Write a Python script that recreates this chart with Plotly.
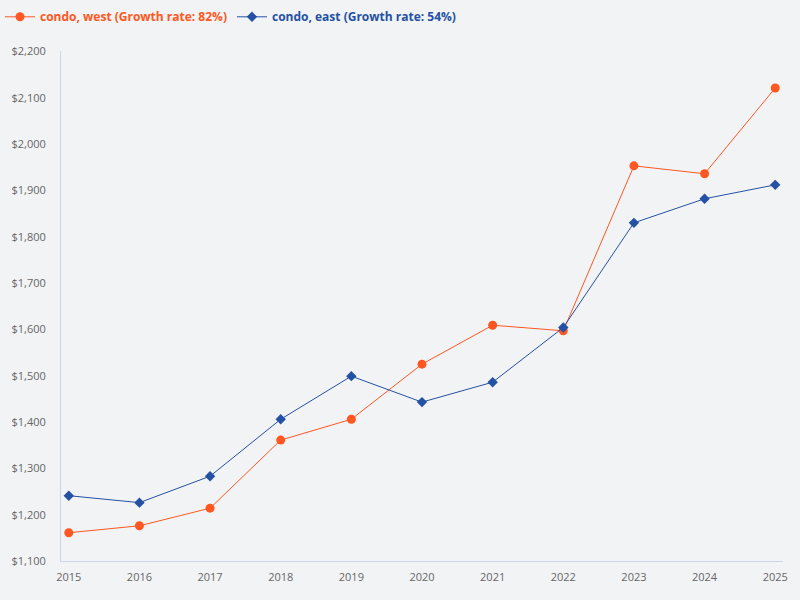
import plotly.graph_objects as go

years = [2015, 2016, 2017, 2018, 2019, 2020, 2021, 2022, 2023, 2024, 2025]
west = [1161, 1176, 1214, 1361, 1406, 1525, 1609, 1597, 1953, 1936, 2121]
east = [1241, 1226, 1283, 1406, 1499, 1443, 1486, 1604, 1830, 1882, 1912]

west_name = 'condo, west (Growth rate: 82%)'
east_name = 'condo, east (Growth rate: 54%)'

orange = '#ff5722'
blue = '#2451a3'

fig = go.Figure()

fig.add_trace(go.Scatter(
    x=years, y=west,
    mode='lines+markers',
    name=f'<span style="color:{orange}"><b>{west_name}</b></span>',
    line=dict(color=orange, width=1),
    marker=dict(color=orange, size=9, symbol='circle')
))

fig.add_trace(go.Scatter(
    x=years, y=east,
    mode='lines+markers',
    name=f'<span style="color:{blue}"><b>{east_name}</b></span>',
    line=dict(color=blue, width=1),
    marker=dict(color=blue, size=8, symbol='diamond')
))

fig.update_layout(
    width=800, height=600,
    paper_bgcolor='#f2f3f5',
    plot_bgcolor='#f2f3f5',
    font=dict(family='Open Sans', size=11, color='#666666'),
    margin=dict(l=59, r=15, t=50, b=39),
    showlegend=True,
    legend=dict(
        orientation='h',
        xref='container', yref='container',
        x=0, y=0.972,
        xanchor='left', yanchor='middle',
        font=dict(size=12),
        itemwidth=30,
        bgcolor='rgba(0,0,0,0)'
    )
)

fig.update_xaxes(
    range=[2014.89, 2025.11],
    tickmode='array', tickvals=years,
    showgrid=False, zeroline=False,
    showline=True, linecolor='#c9d5e8', linewidth=1,
    ticks='', ticklabelstandoff=6,
    tickfont=dict(size=11, color='#666666')
)
fig.update_yaxes(
    range=[1100, 2200],
    dtick=100, tickprefix='$', tickformat=',d',
    showgrid=False, zeroline=False,
    showline=True, linecolor='#c9d5e8', linewidth=1,
    ticks='', ticklabelstandoff=12,
    tickfont=dict(size=11, color='#666666')
)

# drop the default page margin so the chart fills the window
fig.write_html('out.html', config={'displayModeBar': False},
               post_script="document.body.style.margin='0';")
